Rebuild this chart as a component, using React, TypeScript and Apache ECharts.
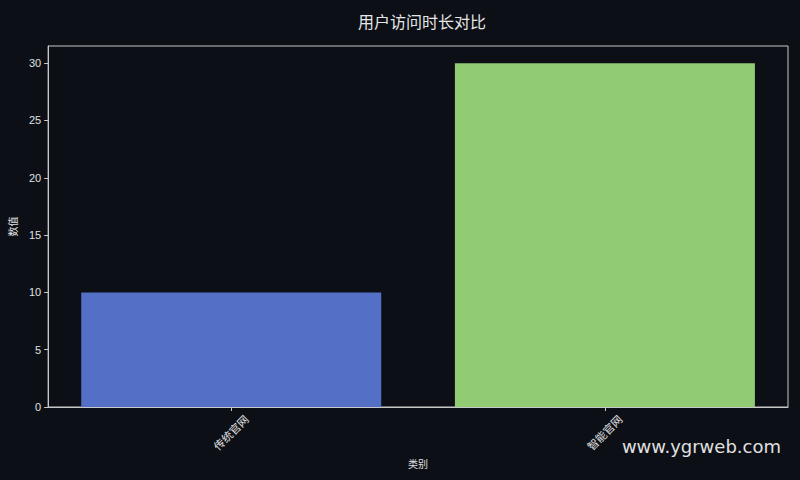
import React, { useEffect, useRef } from 'react';
import * as echarts from 'echarts';

const categories = ['传统官网', '智能官网'];
const values = [10, 30];
const barColors = ['#5470c6', '#91cc75'];
const yTicks = [0, 5, 10, 15, 20, 25, 30];

const App: React.FC = () => {
  const chartRef = useRef<HTMLDivElement>(null);

  useEffect(() => {
    if (!chartRef.current) return;
    const chart = echarts.init(chartRef.current, undefined, { renderer: 'svg' });

    const font = "'Liberation Sans', 'Noto Sans CJK SC', sans-serif";
    const positions = categories.map((_, i) => i);

    const option: echarts.EChartsOption = {
      animation: false,
      backgroundColor: '#0c0f16',
      textStyle: { fontFamily: font },
      title: {
        text: '用户访问时长对比',
        left: 417,
        top: 8,
        textAlign: 'center',
        textStyle: { color: '#e6e6e6', fontSize: 16, fontWeight: 'normal', fontFamily: "'Noto Sans CJK SC', sans-serif" },
      },
      grid: {
        left: 46,
        right: 12,
        top: 46,
        bottom: 73,
        show: true,
        borderColor: '#c8c8c8',
        borderWidth: 1,
        backgroundColor: 'transparent',
      },
      xAxis: {
        type: 'value',
        min: -0.49,
        max: 1.49,
        name: '类别',
        nameLocation: 'middle',
        nameGap: 51,
        nameTextStyle: { color: '#e0e0e0', fontSize: 10 },
        splitLine: { show: false },
        axisLine: { show: true, onZero: false, lineStyle: { color: '#c8c8c8' } },
        axisTick: { show: true, length: 4, customValues: positions, lineStyle: { color: '#c8c8c8' } },
        axisLabel: {
          rotate: 45,
          align: 'center',
          verticalAlign: 'middle',
          color: '#e0e0e0',
          fontSize: 11,
          margin: 26,
          customValues: positions,
          formatter: (v: number) => categories[Math.round(v)] ?? '',
        },
      },
      yAxis: {
        type: 'value',
        min: 0,
        max: 31.5,
        name: '数值',
        nameLocation: 'middle',
        nameGap: 30,
        nameRotate: 90,
        nameTextStyle: { color: '#e0e0e0', fontSize: 10 },
        splitLine: { show: false },
        axisLine: { show: true, onZero: false, lineStyle: { color: '#c8c8c8' } },
        axisTick: { show: true, length: 4, customValues: yTicks, lineStyle: { color: '#c8c8c8' } },
        axisLabel: {
          color: '#e0e0e0',
          fontSize: 11,
          margin: 7,
          customValues: yTicks,
        },
      },
      series: [
        {
          type: 'bar',
          barWidth: 300,
          data: values.map((v, i) => ({ value: [positions[i], v], itemStyle: { color: barColors[i] } })),
        },
      ],
      graphic: [
        {
          type: 'text',
          right: 19,
          top: 437,
          style: {
            text: 'www.ygrweb.com',
            fill: '#e0e0e0',
            font: "18px 'DejaVu Sans', sans-serif",
          },
        },
      ],
    };

    chart.setOption(option);

    const handleResize = () => chart.resize();
    window.addEventListener('resize', handleResize);
    return () => {
      window.removeEventListener('resize', handleResize);
      chart.dispose();
    };
  }, []);

  return (
    <div
      ref={chartRef}
      style={{ position: 'fixed', left: 0, top: 0, width: '800px', height: '480px' }}
    />
  );
};

export default App;
